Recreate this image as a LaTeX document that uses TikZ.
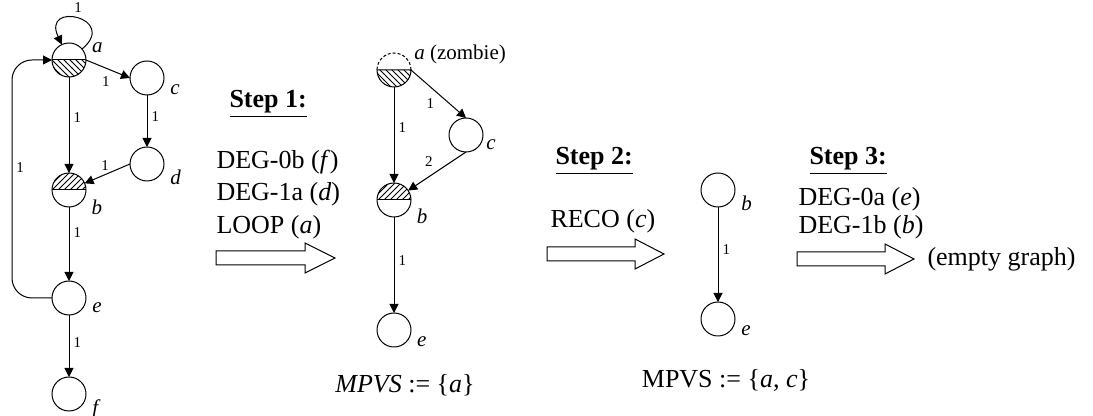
\documentclass[tikz,border=0pt]{standalone}
\usepackage{fontspec}
\setmainfont{Liberation Serif}
\usetikzlibrary{arrows.meta,patterns}

\tikzset{
    vtx/.style={circle,draw,minimum size=17pt,inner sep=0pt,outer sep=0pt},
    lab/.style={font=\fontsize{10.5}{12}\selectfont\itshape,inner sep=1.5pt,label distance=1.5pt},
    wt/.style={font=\fontsize{7.5}{9}\selectfont,inner sep=2pt},
    edge/.style={-{Triangle[length=4.5pt,width=4.5pt]}},
    txt/.style={font=\fontsize{13}{15}\selectfont,anchor=base west,inner sep=0pt},
}

\begin{document}
\begin{tikzpicture}[x=0.5pt,y=-0.5pt,line width=0.5pt]
    \useasboundingbox (0,0) rectangle (1093,416);

    \node[vtx,label={[lab]10:a}] (a) at (69,60) {};
    \node[vtx,label={[lab]-8:c}] (c) at (147,78) {};
    \node[vtx,label={[lab]-6:d}] (d) at (147,164) {};
    \node[vtx,label={[lab]-18:b}] (b) at (69,190) {};
    \node[vtx,label={[lab]-4:e}] (e) at (69,298) {};
    \node[vtx,label={[lab]-6:f}] (f) at (69,394) {};
    \coordinate (lft) at (12,0);

    \fill[pattern=north west lines] (a.west) arc[start angle=180,end angle=360,radius=8.5pt] -- cycle;
    \draw (a.west) -- (a.east);
    \fill[pattern=north east lines] (b.east) arc[start angle=0,end angle=180,radius=8.5pt] -- cycle;
    \draw (b.west) -- (b.east);

    \draw[edge] (a) to[out=40,in=115,looseness=6] node[wt,above=1pt] {1} (a);
    \draw[edge] (a.east) -- node[wt,below=2pt,pos=.45] {1} (c.west);
    \draw[edge] (a) -- node[wt,right,pos=.42] {1} (b);
    \draw[edge] (c) -- node[wt,right,pos=.42] {1} (d);
    \draw[edge] (d.west) -- node[wt,above,pos=.55] {1} (b);
    \draw[edge] (b) -- node[wt,right,pos=.35] {1} (e);
    \draw[edge] (e) -- node[wt,right,pos=.45] {1} (f);
    \draw[edge,rounded corners=10pt] (e.west) -- (e.west -| lft) -- node[wt,right,pos=.55] {1} (a.west -| lft) -- (a.west);

    \node[txt] (s1) at (229,108) {\underline{\textbf{Step 1:}}};
    \node[txt] (r1) at (216,169) {DEG-0b (\textit{f})};
    \node[txt] (r2) at (216,201) {DEG-1a (\textit{d})};
    \node[txt] (r3) at (216,234) {LOOP (\textit{a})};
    \draw (216,251) -- ++(89,0) -- ++(0,-8) -- ++(30,15) -- ++(-30,15) -- ++(0,-8) -- ++(-89,0) -- cycle;

    \node[vtx,draw=none,label={[lab,label distance=0pt]8:a \textup{(zombie)}}] (za) at (394,70) {};
    \node[vtx,label={[lab,label distance=0pt]-5:c}] (zc) at (466,135) {};
    \node[vtx,label={[lab]-15:b}] (zb) at (394,200) {};
    \node[vtx,label={[lab]-10:e}] (ze) at (394,330) {};

    \draw[dash pattern=on 1.5pt off 1pt] (za.east) arc[start angle=0,end angle=180,radius=8.5pt];
    \fill[pattern=north west lines] (za.west) arc[start angle=180,end angle=360,radius=8.5pt] -- cycle;
    \draw (za.west) arc[start angle=180,end angle=360,radius=8.5pt] -- cycle;
    \fill[pattern=north east lines] (zb.east) arc[start angle=0,end angle=180,radius=8.5pt] -- cycle;
    \draw (zb.west) -- (zb.east);

    \draw[edge] (za) -- node[wt,right,pos=.42] {1} (zb);
    \draw[edge] (za.east) -- node[wt,below left,pos=.5] {1} (zc.north);
    \draw[edge] (zc.south) -- node[wt,above left] {2} (zb);
    \draw[edge] (zb) -- node[wt,right,pos=.45] {1} (ze);

    \node[font=\fontsize{13}{15}\selectfont] (m1) at (405,385) {\textit{MPVS} := \{\textit{a}\}};

    \node[txt] (s2) at (555,165) {\underline{\textbf{Step 2:}}};
    \node[txt] (r4) at (550,228) {RECO (\textit{c})};
    \draw (547,247) -- ++(88,0) -- ++(0,-8) -- ++(29,15) -- ++(-29,15) -- ++(0,-8) -- ++(-88,0) -- cycle;

    \node[vtx,label={[lab]-6:b}] (rb) at (718,190) {};
    \node[vtx,label={[lab]-8:e}] (re) at (718,319) {};
    \draw[edge] (rb) -- node[wt,right,pos=.45] {1} (re);

    \node[font=\fontsize{13}{15}\selectfont] (m2) at (726,380) {MPVS := \{\textit{a}, \textit{c}\}};

    \node[txt] (s3) at (809,165) {\underline{\textbf{Step 3:}}};
    \node[txt] (r5) at (798,206) {DEG-0a (\textit{e})};
    \node[txt] (r6) at (798,234) {DEG-1b (\textit{b})};
    \draw (797,252) -- ++(88,0) -- ++(0,-8) -- ++(29,15) -- ++(-29,15) -- ++(0,-8) -- ++(-88,0) -- cycle;
    \node[txt] (eg) at (927,266) {(empty graph)};
\end{tikzpicture}
\end{document}
